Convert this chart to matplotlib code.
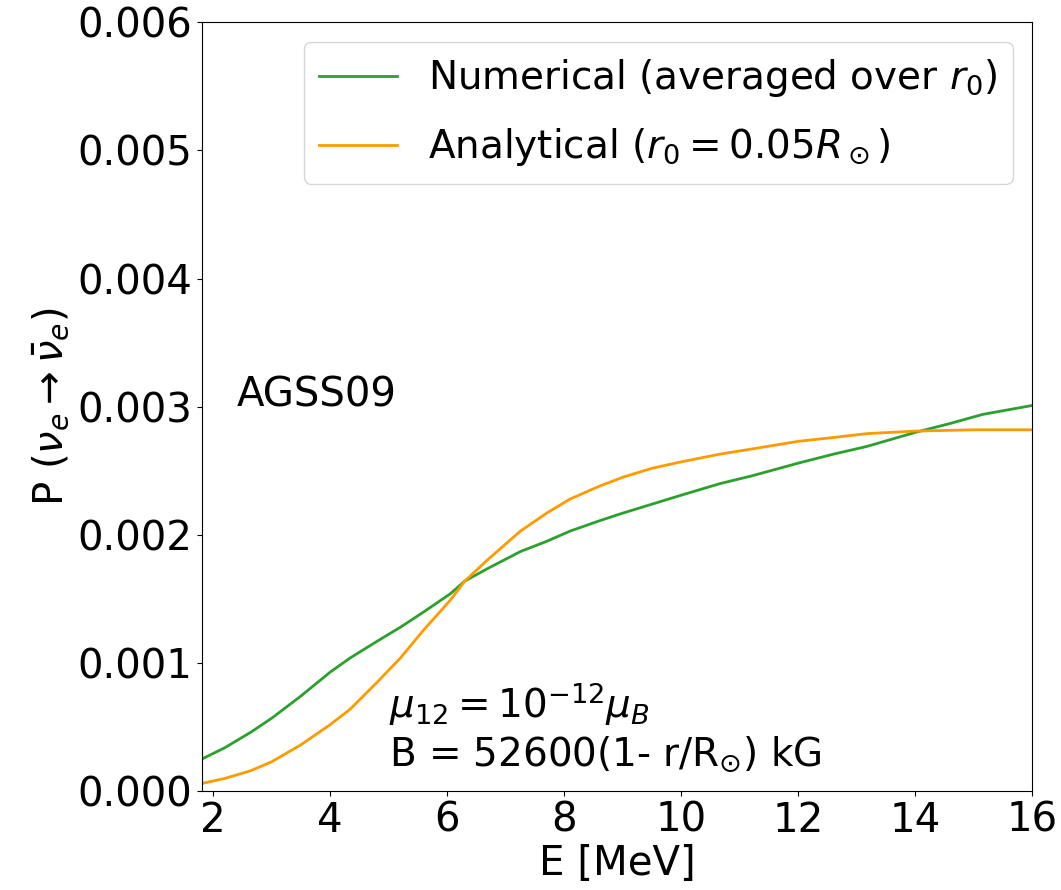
import matplotlib
matplotlib.use("Agg")
import matplotlib.pyplot as plt

# numerical curve (averaged over r0)
E_num = [1.8, 2.2, 2.64, 3.0, 3.49, 4.0, 4.34, 4.8, 5.2, 5.6, 6.05, 6.3, 6.7,
         7.25, 7.7, 8.1, 8.6, 9.0, 9.5, 10.0, 10.66, 11.2, 12.0, 12.6, 13.17,
         14.0, 14.6, 15.15, 16.0]
P_num = [0.00025, 0.00034, 0.00046, 0.00057, 0.00074, 0.00093, 0.00104, 0.00117,
         0.00128, 0.00140, 0.00154, 0.00164, 0.00174, 0.00187, 0.00195, 0.00203,
         0.00211, 0.00217, 0.00224, 0.00231, 0.00240, 0.00246, 0.00256, 0.00263,
         0.00269, 0.00280, 0.00287, 0.00294, 0.00301]

# analytical curve (r0 = 0.05 R_sun)
E_ana = [1.8, 2.2, 2.64, 3.0, 3.49, 4.0, 4.34, 4.8, 5.2, 5.6, 6.05, 6.3, 6.7,
         7.25, 7.7, 8.1, 8.6, 9.0, 9.5, 10.0, 10.66, 11.2, 12.0, 12.6, 13.17,
         14.0, 15.0, 16.0]
P_ana = [0.00006, 0.00010, 0.00016, 0.00023, 0.00036, 0.00052, 0.00064, 0.00085,
         0.00104, 0.00126, 0.00149, 0.00164, 0.00181, 0.00203, 0.00217, 0.00228,
         0.00238, 0.00245, 0.00252, 0.00257, 0.00263, 0.00267, 0.00273, 0.00276,
         0.00279, 0.00281, 0.00282, 0.00282]

fig = plt.figure(figsize=(10.61, 8.90), dpi=100)
ax = fig.add_axes([0.190, 0.111, 0.783, 0.864])

ax.plot(E_num, P_num, color='#2ca02c', lw=2, label=r'Numerical (averaged over $r_0$)')
ax.plot(E_ana, P_ana, color='#ff9a00', lw=2, label=r'Analytical ($r_0=0.05R_\odot$)')

ax.set_xlim(1.8, 16)
ax.set_ylim(0, 0.006)
ax.set_xticks([2, 4, 6, 8, 10, 12, 14, 16])
ax.set_yticks([0, 0.001, 0.002, 0.003, 0.004, 0.005, 0.006])
ax.tick_params(labelsize=29)
ax.set_xlabel('E [MeV]', fontsize=29, labelpad=2)
ax.set_ylabel(r'P ($\nu_e \rightarrow \bar{\nu}_e$)', fontsize=29)

ax.text(2.4, 0.003, 'AGSS09', fontsize=29)
ax.text(5.0, 0.0002, '$\\mu_{12}=10^{-12}\\mu_B$\nB = 52600(1- r/R$_{\\odot}$) kG',
        fontsize=28, linespacing=1.2)

ax.legend(loc='upper right', fontsize=28, handlelength=2, handletextpad=0.8,
          labelspacing=0.7)

fig.savefig('out.png', dpi=100)
